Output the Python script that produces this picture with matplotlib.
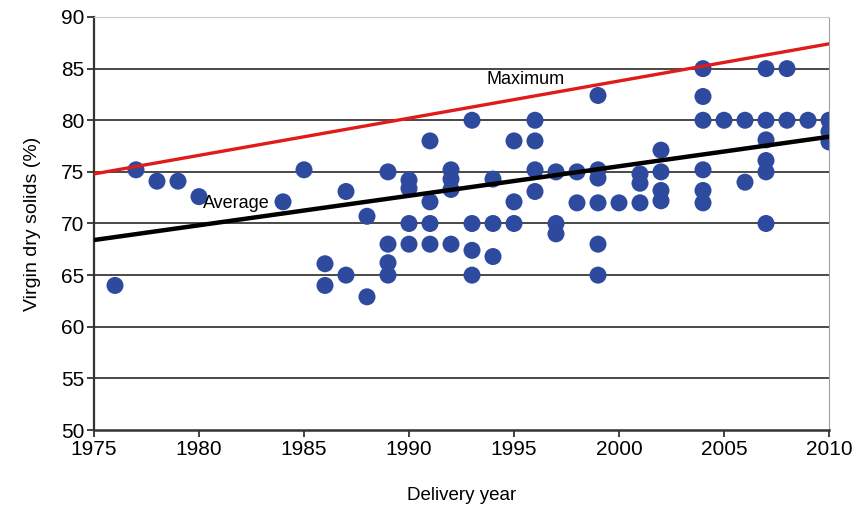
import matplotlib.pyplot as plt

# delivery years and virgin dry solids (%)
years = [
    1976, 1977, 1978, 1979, 1980, 1984, 1985,
    1986, 1986, 1987, 1987, 1988, 1988,
    1989, 1989, 1989, 1989,
    1990, 1990, 1990, 1990,
    1991, 1991, 1991, 1991,
    1992, 1992, 1992, 1992,
    1993, 1993, 1993, 1993,
    1994, 1994, 1994,
    1995, 1995, 1995,
    1996, 1996, 1996, 1996,
    1997, 1997, 1997,
    1998, 1998,
    1999, 1999, 1999, 1999, 1999, 1999,
    2000,
    2001, 2001, 2001,
    2002, 2002, 2002, 2002,
    2004, 2004, 2004, 2004, 2004, 2004,
    2005,
    2006, 2006,
    2007, 2007, 2007, 2007, 2007, 2007,
    2008, 2008,
    2009,
    2010, 2010, 2010,
]
solids = [
    64.0, 75.2, 74.1, 74.1, 72.6, 72.1, 75.2,
    66.1, 64.0, 73.1, 65.0, 70.7, 62.9,
    75.0, 68.0, 66.2, 65.0,
    74.2, 73.4, 70.0, 68.0,
    78.0, 72.1, 70.0, 68.0,
    75.2, 74.3, 73.3, 68.0,
    80.0, 70.0, 67.4, 65.0,
    74.3, 70.0, 66.8,
    78.0, 72.1, 70.0,
    80.0, 78.0, 75.2, 73.1,
    75.0, 70.0, 69.0,
    75.0, 72.0,
    82.4, 75.2, 74.4, 72.0, 68.0, 65.0,
    72.0,
    74.8, 73.9, 72.0,
    77.1, 75.0, 73.2, 72.2,
    85.0, 82.3, 80.0, 75.2, 73.2, 72.0,
    80.0,
    80.0, 74.0,
    85.0, 80.0, 78.1, 76.1, 75.0, 70.0,
    85.0, 80.0,
    80.0,
    80.0, 78.9, 77.9,
]

# trend lines (end points)
line_years = [1975, 2010]
max_line = [74.8, 87.4]
avg_line = [68.4, 78.4]

x_ticks = [1975, 1980, 1985, 1990, 1995, 2000, 2005, 2010]
y_ticks = [50, 55, 60, 65, 70, 75, 80, 85, 90]

plt.rcParams["font.family"] = ["Liberation Sans", "DejaVu Sans"]

fig = plt.figure(figsize=(8.57, 5.09), dpi=100)
ax = fig.add_axes([94 / 857, 1 - 430 / 509, (829 - 94) / 857, (430 - 17) / 509])

for y in y_ticks[1:-1]:
    ax.axhline(y, color="#3a3a3a", lw=1.3, zorder=1)

ax.scatter(years, solids, s=150, color="#2d4a9e", edgecolors="none", zorder=3)
ax.plot(line_years, max_line, color="#e01b1b", lw=2.4, zorder=4)
ax.plot(line_years, avg_line, color="black", lw=3.2, zorder=4)

ax.text(1993.7, 83.9, "Maximum", fontsize=13, va="center", ha="left", zorder=5)
ax.text(1980.2, 71.9, "Average", fontsize=13, va="center", ha="left", zorder=5)

ax.set_xlim(1975, 2010)
ax.set_ylim(50, 90)
ax.set_xticks(x_ticks)
ax.set_yticks(y_ticks)
ax.tick_params(axis="both", labelsize=15, length=5, width=1.3, color="#333333", direction="out")
ax.tick_params(axis="x", pad=2)
ax.tick_params(axis="y", pad=2)

ax.spines["left"].set_color("#333333")
ax.spines["bottom"].set_color("#333333")
ax.spines["left"].set_linewidth(1.6)
ax.spines["bottom"].set_linewidth(1.8)
ax.spines["right"].set_color("#a0a0a0")
ax.spines["top"].set_color("#c8c8c8")

ax.set_xlabel("Delivery year", fontsize=13.5, labelpad=20)
ax.set_ylabel("Virgin dry solids (%)", fontsize=14, labelpad=14)

fig.savefig("out.png", dpi=100)
